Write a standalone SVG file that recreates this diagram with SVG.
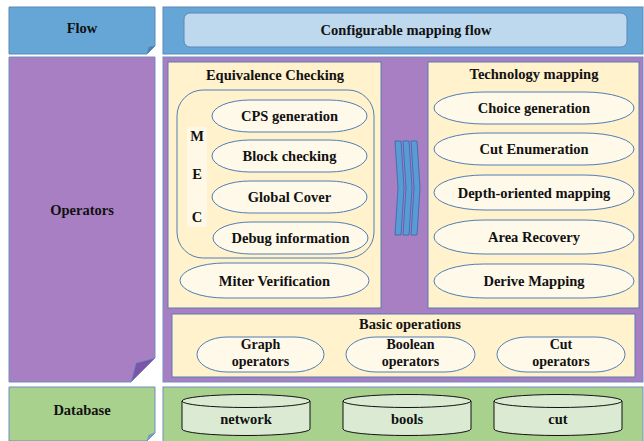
<svg xmlns="http://www.w3.org/2000/svg" width="644" height="441" viewBox="0 0 644 441">
<style>
text{font-family:"Liberation Serif","Times New Roman",serif;font-weight:bold;font-size:14.5px;fill:#111;text-anchor:middle}
text.two{font-size:14px}
.flow{fill:#66a6d6;stroke:#5a88b8;stroke-width:1}
.op{fill:#a77fc2;stroke:#6f8fbf;stroke-width:1}
.db{fill:#a9d18e;stroke:#6f8fbf;stroke-width:1}
.box{fill:#fff2cc;stroke:#5a7fae;stroke-width:1}
.pill{fill:#fff9ea;stroke:#4f7fb5;stroke-width:1}
.cyl{fill:#dbebd3;stroke:#111;stroke-width:1}
.chev{fill:#5b9bd5;stroke:#2f6aa8;stroke-width:0.8}
</style>
<g id="flow-label">
<path class="flow" d="M9 7H155V46L147 54H9Z"/>
<path d="M147 54L149 47L155 46Z" fill="#4a7fb0" stroke="#5a88b8" stroke-width="0.6"/>
<text x="82" y="33">Flow</text>
</g>
<g id="flow-panel">
<rect class="flow" x="163" y="7" width="480" height="47"/>
<rect x="184" y="13" width="443" height="34" rx="6" fill="#bed8ee" stroke="#5a88b8"/>
<text x="406" y="35">Configurable mapping flow</text>
</g>
<g id="operators-label">
<path class="op" d="M9 57H155V358L131 382H9Z"/>
<path d="M131 382L136 363L155 358Z" fill="#7d55a8" stroke="#6f8fbf" stroke-width="0.8"/>
<text x="82" y="215">Operators</text>
</g>
<g id="operators-panel">
<rect class="op" x="163" y="57" width="480" height="325"/>
</g>
<g id="equivalence-checking">
<rect class="box" x="168" y="62" width="213" height="246"/>
<text x="275" y="80">Equivalence Checking</text>
<rect x="177" y="90" width="197" height="168" rx="26" fill="#fff2cc" stroke="#4f7fb5"/>
<rect x="187" y="127" width="20" height="100" rx="3" fill="#fff8e6"/>
<text x="197" y="141">M</text>
<text x="197" y="179">E</text>
<text x="197" y="222">C</text>
</g>
<g id="cps"><rect class="pill" x="212" y="100" width="155" height="32" rx="38" ry="16"/><text x="289.5" y="121">CPS generation</text></g>
<g id="block"><rect class="pill" x="212" y="140" width="155" height="32" rx="38" ry="16"/><text x="289.5" y="161">Block checking</text></g>
<g id="global"><rect class="pill" x="212" y="181" width="155" height="32" rx="38" ry="16"/><text x="289.5" y="202">Global Cover</text></g>
<g id="debug"><rect class="pill" x="213" y="222" width="155" height="32" rx="38" ry="16"/><text x="290.5" y="243">Debug information</text></g>
<g id="miter"><rect class="pill" x="180" y="263" width="189" height="35" rx="45" ry="17.5"/><text x="274.5" y="285.5">Miter Verification</text></g>
<g id="technology-mapping">
<rect class="box" x="428" y="62" width="211" height="246"/>
<text x="534" y="79">Technology mapping</text>
</g>
<g id="choice"><rect class="pill" x="434" y="92" width="200" height="32" rx="50" ry="16"/><text x="534" y="113">Choice generation</text></g>
<g id="cut-enum"><rect class="pill" x="434" y="133" width="200" height="32" rx="50" ry="16"/><text x="534" y="154">Cut Enumeration</text></g>
<g id="depth"><rect class="pill" x="434" y="175" width="200" height="35" rx="50" ry="17.5"/><text x="534" y="197.5">Depth-oriented mapping</text></g>
<g id="area"><rect class="pill" x="434" y="220" width="200" height="34" rx="50" ry="17"/><text x="534" y="242">Area Recovery</text></g>
<g id="derive"><rect class="pill" x="434" y="264" width="200" height="34" rx="50" ry="17"/><text x="534" y="286">Derive Mapping</text></g>
<g id="connectors">
<path class="chev" d="M395 141H401L404 188L401 235H395L398 188Z"/>
<path class="chev" d="M403 141H409L412 188L409 235H403L406 188Z"/>
<path class="chev" d="M411 141H417L420 188L417 235H411L414 188Z"/>
</g>
<g id="basic-operations">
<rect class="box" x="172" y="314" width="463" height="63"/>
<text x="410" y="329">Basic operations</text>
</g>
<g id="graph-op"><rect class="pill" x="197" y="337" width="127" height="35" rx="30" ry="17.5"/><text class="two" x="260.5" y="349">Graph</text><text class="two" x="260.5" y="365.5">operators</text></g>
<g id="boolean-op"><rect class="pill" x="346" y="337" width="129" height="35" rx="30" ry="17.5"/><text class="two" x="410.5" y="349">Boolean</text><text class="two" x="410.5" y="365.5">operators</text></g>
<g id="cut-op"><rect class="pill" x="497" y="337" width="128" height="35" rx="30" ry="17.5"/><text class="two" x="561" y="349">Cut</text><text class="two" x="561" y="365.5">operators</text></g>
<g id="database-label">
<path class="db" d="M9 387H155V433L147 441H9Z"/>
<path d="M147 441L149 435L155 433Z" fill="#6f9fc8" stroke="#6f8fbf" stroke-width="0.6"/>
<text x="82" y="415">Database</text>
</g>
<g id="database-panel">
<rect class="db" x="163" y="387" width="480" height="56"/>
</g>
<g id="network"><path class="cyl" d="M182 401V429A64 6.5 0 0 0 310 429V401"/><ellipse class="cyl" cx="246" cy="401" rx="64" ry="6.5"/><text x="246" y="424">network</text></g>
<g id="bools"><path class="cyl" d="M343 401V429A64 6.5 0 0 0 471 429V401"/><ellipse class="cyl" cx="407" cy="401" rx="64" ry="6.5"/><text x="407" y="424">bools</text></g>
<g id="cut"><path class="cyl" d="M494 401V429A64 6.5 0 0 0 622 429V401"/><ellipse class="cyl" cx="558" cy="401" rx="64" ry="6.5"/><text x="558" y="424">cut</text></g>
</svg>
